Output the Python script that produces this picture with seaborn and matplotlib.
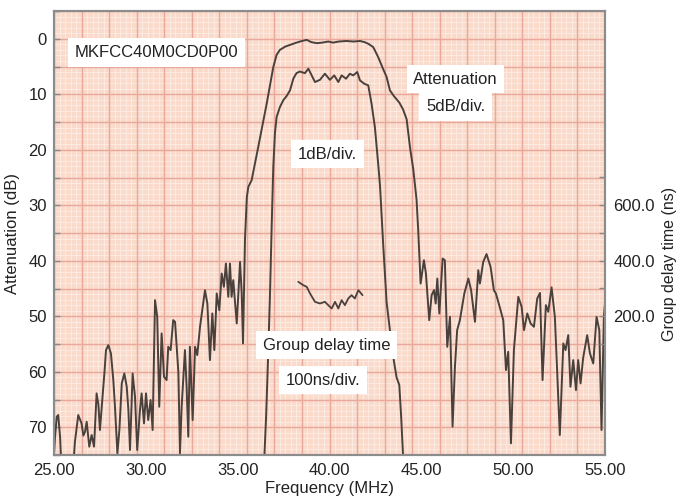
import numpy as np
import matplotlib
matplotlib.use('Agg')
import matplotlib.pyplot as plt
import seaborn as sns
from matplotlib.ticker import MultipleLocator, FixedLocator, FormatStrFormatter

sns.set_theme(style='white')
plt.rcParams['font.family'] = ['Liberation Sans', 'DejaVu Sans']

# ---- data ----
freq_att = [25.00, 25.05, 25.15, 25.23, 25.33, 25.40, 26.05, 26.14, 26.32, 26.50, 26.60, 26.69, 26.78, 26.92,
            27.05, 27.18, 27.32, 27.42, 27.50, 27.63, 27.75, 27.83, 27.96, 28.10, 28.23, 28.32, 28.45, 28.56,
            28.69, 28.83, 28.96, 29.05, 29.14, 29.28, 29.41, 29.53, 29.68, 29.77, 29.90, 30.01, 30.13, 30.26,
            30.37, 30.50, 30.62, 30.73, 30.86, 30.99, 31.13, 31.22, 31.35, 31.49, 31.59, 31.77, 31.86, 31.95,
            32.13, 32.22, 32.31, 32.40, 32.55, 32.68, 32.80, 32.95, 33.22, 33.35, 33.49, 33.62, 33.73, 33.86,
            34.00, 34.13, 34.25, 34.36, 34.49, 34.58, 34.67, 34.76, 34.95, 35.13, 35.22, 35.29, 35.40, 35.50,
            35.58, 35.76, 36.12, 36.58, 36.94, 37.12, 37.30, 37.60, 37.85, 38.20, 38.50, 38.76, 39.00, 39.30,
            39.60, 39.93, 40.20, 40.50, 40.93, 41.30, 41.66, 41.90, 42.11, 42.38, 42.65, 42.90, 43.11, 43.29,
            43.50, 43.80, 44.00, 44.20, 44.38, 44.56, 44.74, 44.83, 44.96, 45.14, 45.25, 45.43, 45.56, 45.69,
            45.78, 45.87, 45.98, 46.16, 46.28, 46.41, 46.56, 46.70, 46.83, 46.95, 47.10, 47.34, 47.56, 47.71,
            47.92, 48.10, 48.19, 48.37, 48.55, 48.77, 48.95, 49.06, 49.24, 49.46, 49.61, 49.73, 49.88, 50.04,
            50.28, 50.46, 50.59, 50.77, 50.95, 51.13, 51.31, 51.46, 51.60, 51.78, 51.91, 52.09, 52.27, 52.40,
            52.54, 52.73, 52.85, 53.00, 53.12, 53.27, 53.42, 53.54, 53.67, 53.81, 54.03, 54.18, 54.36, 54.54,
            54.69, 54.81, 54.94, 55.00]
att_db = [74.7, 72.0, 68.1, 67.8, 71.7, 77.0, 77.0, 72.6, 67.8, 69.3, 71.5, 70.8, 69.0, 73.5,
          71.4, 73.5, 63.9, 66.0, 70.5, 65.1, 60.0, 56.1, 55.2, 56.7, 61.5, 66.3, 74.7, 70.5,
          62.1, 60.3, 62.7, 66.9, 74.1, 60.3, 64.5, 74.1, 66.9, 63.9, 69.3, 63.9, 68.7, 65.1,
          70.5, 47.1, 50.1, 66.3, 53.1, 60.9, 61.5, 55.5, 56.1, 50.7, 51.0, 60.0, 74.7, 66.3,
          56.1, 62.7, 71.7, 55.5, 68.7, 55.5, 57.0, 51.9, 45.3, 47.7, 57.9, 49.5, 56.1, 45.9,
          48.9, 42.3, 44.7, 40.5, 46.5, 40.5, 46.5, 43.5, 51.3, 40.2, 45.9, 54.9, 36.0, 28.5,
          26.7, 25.5, 19.5, 11.7, 5.1, 2.9, 2.0, 1.4, 1.1, 0.7, 0.4, 0.2, 0.6, 0.8,
          0.7, 0.5, 0.7, 0.5, 0.4, 0.5, 0.4, 0.6, 0.9, 1.5, 3.3, 5.3, 6.9, 9.3,
          10.3, 11.5, 12.7, 14.5, 19.5, 23.5, 29.0, 34.5, 44.1, 39.9, 42.3, 50.7, 46.2, 45.3,
          47.7, 43.2, 49.5, 39.6, 39.9, 55.5, 50.1, 69.9, 59.1, 52.5, 50.7, 45.9, 43.2, 45.3,
          51.0, 41.7, 44.1, 40.2, 38.8, 41.1, 45.3, 45.9, 48.0, 50.7, 59.7, 56.4, 72.9, 56.1,
          46.5, 48.3, 52.5, 49.5, 51.3, 51.9, 46.8, 45.8, 61.5, 48.0, 49.2, 44.8, 50.1, 60.3,
          71.4, 54.9, 56.1, 53.4, 62.7, 57.9, 63.3, 57.9, 62.1, 57.5, 53.4, 56.7, 58.5, 50.1,
          52.5, 70.5, 50.1, 47.7]

freq_pass = [36.45, 36.55, 36.67, 36.76, 36.85, 36.94, 37.03, 37.12, 37.30, 37.48, 37.67, 37.85, 38.03,
             38.20, 38.39, 38.66, 38.85, 39.03, 39.21, 39.48, 39.75, 40.02, 40.26, 40.48, 40.66, 40.90,
             41.11, 41.29, 41.51, 41.66, 41.89, 42.11, 42.29, 42.47, 42.65, 42.75, 42.93, 43.11, 43.29,
             43.47, 43.65, 43.80, 43.90, 44.01]
pass_db = [75.5, 68.0, 56.0, 46.0, 34.0, 23.0, 17.0, 14.1, 12.3, 11.1, 10.3, 9.3, 7.2,
           6.2, 5.9, 6.2, 5.4, 6.6, 7.8, 7.4, 6.3, 7.4, 6.6, 7.8, 6.6, 7.2,
           6.3, 6.6, 6.0, 7.5, 8.1, 8.4, 11.7, 15.9, 22.5, 26.5, 37.5, 47.5, 52.5,
           57.3, 61.0, 62.4, 68.0, 75.5]

freq_gd = [38.30, 38.57, 38.76, 38.94, 39.21, 39.48, 39.75, 39.93, 40.12, 40.30, 40.48, 40.66, 40.84,
           41.02, 41.20, 41.38, 41.57, 41.80]
gd_ns = [324, 312, 306, 282, 252, 246, 252, 240, 228, 252, 228, 258, 240, 264, 276, 264, 294, 276]

x_ticks = [25, 30, 35, 40, 45, 50, 55]
y_ticks = [0, 10, 20, 30, 40, 50, 60, 70]
gd_ticks = [200, 400, 600]

# ---- figure ----
line_c = '#4a403c'
txt_c = '#222222'
fig = plt.figure(figsize=(6.81, 4.97), dpi=100)
ax = fig.add_axes([54 / 681, 42 / 497, 551 / 681, 444 / 497])
ax.set_facecolor('#f9dacb')
ax.set_xlim(25, 55)
ax.set_ylim(75, -5)

# chart-paper grid
for xv in np.linspace(25, 55, 101):
    ax.axvline(xv, color='#fdede4', lw=0.6, zorder=0.3)
for yv in np.linspace(-5, 75, 81):
    ax.axhline(yv, color='#fdede4', lw=0.6, zorder=0.3)
for xv in np.linspace(25, 55, 21):
    ax.axvline(xv, color='#e9a89b', lw=1.0, zorder=0.4)
for yv in np.linspace(-5, 75, 17):
    ax.axhline(yv, color='#e9a89b', lw=1.0, zorder=0.4)

sns.lineplot(x=freq_att, y=att_db, ax=ax, color=line_c, lw=1.4, sort=False, estimator=None, zorder=3)
sns.lineplot(x=freq_pass, y=pass_db, ax=ax, color=line_c, lw=1.4, sort=False, estimator=None, zorder=3)

ax.xaxis.set_major_locator(FixedLocator(x_ticks))
ax.xaxis.set_major_formatter(FormatStrFormatter('%.2f'))
ax.yaxis.set_major_locator(FixedLocator(y_ticks))
ax.yaxis.set_minor_locator(MultipleLocator(5))
ax.tick_params(axis='both', which='both', direction='in', colors='#888888', labelcolor=txt_c,
               labelsize=12, length=4, width=1)
ax.tick_params(axis='x', pad=6)
ax.tick_params(axis='y', pad=5)
ax.set_xlabel('Frequency (MHz)', fontsize=12, color=txt_c, labelpad=2)
ax.set_ylabel('Attenuation (dB)', fontsize=12, color=txt_c, labelpad=6)

ax2 = ax.twinx()
ax2.set_ylim(-300, 1300)
sns.lineplot(x=freq_gd, y=gd_ns, ax=ax2, color=line_c, lw=1.3, sort=False, estimator=None, zorder=3)
ax2.yaxis.set_major_locator(FixedLocator(gd_ticks))
ax2.yaxis.set_minor_locator(FixedLocator([100, 300, 500, 700]))
ax2.yaxis.set_major_formatter(FormatStrFormatter('%.1f'))
ax2.tick_params(axis='y', which='both', direction='in', colors='#888888', labelcolor=txt_c,
                labelsize=12, length=4, width=1, pad=6)
ax2.set_ylabel('Group delay time (ns)', fontsize=11.5, color=txt_c)
ax2.yaxis.set_label_coords(1.103, 0.43)
ax2.set_xlim(25, 55)

for a in (ax, ax2):
    for s in a.spines.values():
        s.set_color('#8c8c8c')
        s.set_linewidth(1.5)

box = dict(boxstyle='square,pad=0.4', facecolor='white', edgecolor='none')
labels = [
    (30.58, 2.5, 'MKFCC40M0CD0P00'),
    (46.86, 7.3, 'Attenuation'),
    (46.86, 12.2, '5dB/div.'),
    (39.89, 20.8, '1dB/div.'),
    (39.85, 55.2, 'Group delay time'),
    (39.64, 61.5, '100ns/div.'),
]
for xv, yv, t in labels:
    ax.text(xv, yv, t, fontsize=12, color=txt_c, ha='center', va='center', bbox=box, zorder=5)

fig.savefig('out.png', dpi=100)
